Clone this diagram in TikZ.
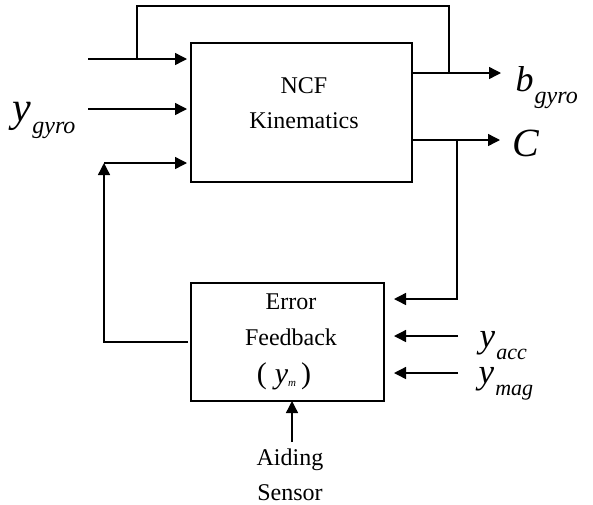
\documentclass[tikz,border=0pt]{standalone}
\usepackage{fontspec}
\setmainfont{Liberation Serif}
\usetikzlibrary{arrows.meta,calc}

\newcommand{\sig}[4][24]{{\fontsize{#4}{#4}\selectfont\textit{#2}}\kern1pt\raisebox{-12pt}{\fontsize{#1}{#1}\selectfont\textit{#3}}}

\begin{document}
\begin{tikzpicture}[x=1pt,y=-1pt,line width=1.4pt,
  blk/.style={draw,inner sep=0pt,outer sep=0pt},
  arr/.style={-{Triangle[length=12pt,width=12pt]}},
  txt/.style={anchor=base,inner sep=0pt,font=\fontsize{24}{24}\selectfont},
  lbl/.style={anchor=base west,inner sep=0pt}]
\useasboundingbox (0,0) rectangle (593,504);
\node[blk,minimum width=221pt,minimum height=139pt] (ncf) at (301.5,112.5) {};
\node[blk,minimum width=193pt,minimum height=118pt] (errfb) at (287.5,342) {};
\node[txt] (ncf1) at (304,93) {NCF};
\node[txt] (ncf2) at (304,128) {Kinematics};
\node[txt] (err1) at (291,309) {Error};
\node[txt] (err2) at (291,345) {Feedback};
\node[txt] (err3) at (284,383) {\fontsize{30}{30}\selectfont(\kern8pt\textit{y}\raisebox{-3pt}{\fontsize{11}{11}\selectfont\textit{m}}\kern5pt)};
\node[txt] (aid1) at (290,465) {Aiding};
\node[txt] (aid2) at (290,500) {Sensor};
\node[lbl] (ygyro) at (12,121) {\sig{y}{gyro}{42}};
\node[lbl] (bgyro) at (515,91) {\sig{b}{gyro}{36}};
\node[lbl] (cmat) at (512,156) {\fontsize{40}{40}\selectfont\textit{C}};
\node[lbl] (yacc) at (479,347) {\sig[22]{y}{acc}{35}};
\node[lbl] (ymag) at (478,383) {\sig[22]{y}{mag}{35}};

\coordinate (in1) at (88,59);
\coordinate (in2) at (88,109);
\coordinate (fb) at (104,163);
\coordinate (j1) at (137,59);
\coordinate (j2) at (449,73);
\coordinate (j3) at (457,140);
\coordinate (a1) at (458,336);
\coordinate (a2) at (458,373);
\coordinate (as) at (292,442);

\draw[arr,shorten >=4pt] (in1) -- (ncf.west |- in1);
\draw[arr,shorten >=4pt] (in2) -- (ncf.west |- in2);
\draw[arr,shorten >=4pt] (fb) -- (ncf.west |- fb);
\draw (j1) -- (j1 |- 0,6) -| (j2);
\draw[arr,shorten >=14pt] (ncf.east |- j2) -- (bgyro.west |- j2);
\draw[arr,shorten >=12pt] (ncf.east |- j3) -- (cmat.west |- j3);
\draw[arr,shorten >=10pt] (j3) |- (errfb.east |- 0,299);
\draw[arr,shorten >=10pt] (a1) -- (errfb.east |- a1);
\draw[arr,shorten >=10pt] (a2) -- (errfb.east |- a2);
\draw[arr] ([xshift=-3pt]errfb.west) -| (fb);
\draw[arr] (as) -- (as |- errfb.south);
\end{tikzpicture}
\end{document}
